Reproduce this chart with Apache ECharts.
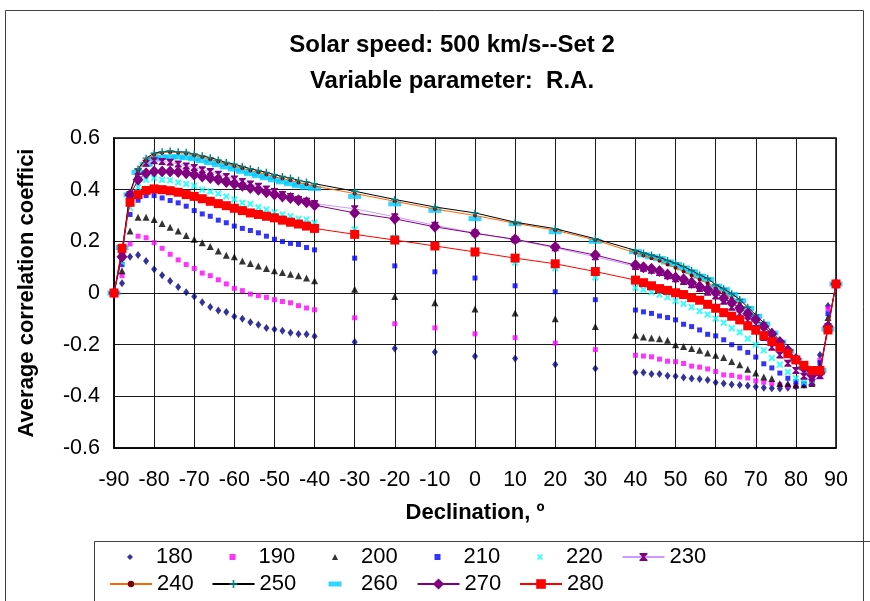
<!DOCTYPE html>
<html>
<head>
<meta charset="utf-8">
<script src="https://cdn.jsdelivr.net/npm/echarts@6/dist/echarts.min.js"></script>
<style>
html,body{margin:0;padding:0;background:#fff;}
#chart{width:870px;height:601px;}
</style>
</head>
<body>
<div id="chart"></div>
<script>
// Declination values (x)
var decl = [-90,-88,-86,-84,-82,-80,-78,-76,-74,-72,-70,-68,-66,-64,-62,-60,-58,-56,-54,-52,-50,-48,-46,-44,-42,-40,
  -30,-20,-10,0,10,20,30,
  40,42,44,46,48,50,52,54,56,58,60,62,64,66,68,70,72,74,76,78,80,82,84,86,88,90];

var seriesNames = ['180','190','200','210','220','230','240','250','260','270','280'];

var s180 = [0,0.038,0.14,0.147,0.124,0.092,0.069,0.046,0.023,0.003,-0.014,-0.036,-0.054,-0.068,-0.074,-0.091,-0.1,-0.113,-0.123,-0.135,-0.14,-0.146,-0.154,-0.159,-0.16,-0.167,
  -0.19,-0.215,-0.228,-0.245,-0.254,-0.277,-0.292,
  -0.308,-0.308,-0.314,-0.314,-0.32,-0.322,-0.327,-0.331,-0.333,-0.337,-0.346,-0.35,-0.354,-0.356,-0.359,-0.363,-0.367,-0.369,-0.37,-0.367,-0.362,-0.355,-0.34,-0.24,-0.05,0.035];
var s190 = [0,0.067,0.19,0.22,0.214,0.195,0.173,0.15,0.128,0.11,0.095,0.077,0.067,0.051,0.035,0.018,0.009,-0.004,-0.01,-0.017,-0.026,-0.033,-0.038,-0.049,-0.058,-0.065,
  -0.096,-0.119,-0.135,-0.158,-0.173,-0.194,-0.219,
  -0.241,-0.244,-0.247,-0.256,-0.264,-0.266,-0.273,-0.283,-0.287,-0.294,-0.304,-0.317,-0.319,-0.325,-0.329,-0.34,-0.345,-0.35,-0.355,-0.36,-0.36,-0.355,-0.345,-0.26,-0.06,0.035];
var s200 = [0,0.086,0.24,0.293,0.293,0.285,0.269,0.255,0.24,0.223,0.208,0.195,0.18,0.163,0.146,0.14,0.124,0.114,0.105,0.095,0.086,0.079,0.073,0.067,0.058,0.047,
  0.015,-0.014,-0.038,-0.062,-0.077,-0.1,-0.13,
  -0.164,-0.17,-0.174,-0.177,-0.183,-0.2,-0.207,-0.215,-0.222,-0.232,-0.241,-0.25,-0.265,-0.278,-0.295,-0.31,-0.325,-0.331,-0.35,-0.35,-0.356,-0.355,-0.35,-0.28,-0.095,0.035];
var s210 = [0,0.11,0.304,0.359,0.377,0.377,0.368,0.358,0.349,0.336,0.319,0.306,0.297,0.282,0.272,0.259,0.25,0.242,0.233,0.22,0.208,0.199,0.192,0.188,0.176,0.167,
  0.135,0.105,0.082,0.058,0.028,0.005,-0.026,
  -0.066,-0.073,-0.079,-0.089,-0.095,-0.104,-0.121,-0.13,-0.143,-0.16,-0.166,-0.181,-0.2,-0.213,-0.23,-0.248,-0.274,-0.29,-0.31,-0.33,-0.343,-0.35,-0.34,-0.27,-0.08,0.035];
var s220 = [0,0.12,0.33,0.41,0.438,0.445,0.438,0.436,0.428,0.422,0.415,0.4,0.393,0.385,0.374,0.362,0.349,0.345,0.332,0.323,0.313,0.304,0.297,0.287,0.285,0.272,
  0.246,0.215,0.185,0.15,0.118,0.096,0.06,
  0.02,0.013,0.003,-0.006,-0.016,-0.031,-0.042,-0.055,-0.07,-0.083,-0.099,-0.115,-0.136,-0.152,-0.177,-0.2,-0.222,-0.252,-0.277,-0.306,-0.33,-0.345,-0.34,-0.31,-0.13,0.035];
var s230 = [0,0.144,0.381,0.47,0.502,0.512,0.509,0.506,0.499,0.492,0.486,0.477,0.47,0.46,0.451,0.441,0.432,0.422,0.413,0.403,0.393,0.381,0.374,0.362,0.355,0.346,
  0.326,0.295,0.262,0.232,0.206,0.175,0.14,
  0.103,0.096,0.088,0.079,0.067,0.055,0.045,0.032,0.017,0.003,-0.012,-0.032,-0.055,-0.08,-0.107,-0.137,-0.172,-0.21,-0.24,-0.272,-0.3,-0.322,-0.345,-0.32,-0.13,0.035];
var s240 = [0,0.16,0.385,0.475,0.515,0.535,0.542,0.545,0.543,0.54,0.533,0.526,0.518,0.509,0.5,0.492,0.483,0.474,0.467,0.459,0.45,0.443,0.436,0.428,0.421,0.414,
  0.385,0.355,0.325,0.3,0.27,0.243,0.205,
  0.155,0.145,0.135,0.125,0.11,0.098,0.083,0.068,0.052,0.038,0.018,0.0,-0.02,-0.042,-0.07,-0.098,-0.128,-0.16,-0.195,-0.23,-0.262,-0.295,-0.315,-0.305,-0.13,0.035];
var s250 = [0,0.16,0.39,0.48,0.522,0.541,0.547,0.55,0.547,0.545,0.538,0.531,0.524,0.515,0.505,0.499,0.49,0.481,0.474,0.467,0.458,0.451,0.445,0.436,0.43,0.423,
  0.394,0.362,0.333,0.31,0.274,0.249,0.21,
  0.165,0.155,0.147,0.138,0.126,0.115,0.102,0.087,0.07,0.056,0.032,0.016,-0.003,-0.025,-0.055,-0.085,-0.115,-0.15,-0.185,-0.22,-0.255,-0.29,-0.31,-0.3,-0.13,0.035];
var s260 = [0,0.176,0.38,0.467,0.498,0.52,0.525,0.527,0.527,0.524,0.52,0.512,0.505,0.497,0.488,0.48,0.471,0.462,0.454,0.446,0.438,0.43,0.423,0.416,0.41,0.405,
  0.374,0.345,0.32,0.288,0.268,0.237,0.2,
  0.16,0.148,0.14,0.133,0.12,0.11,0.097,0.082,0.065,0.052,0.026,0.013,-0.006,-0.03,-0.06,-0.09,-0.12,-0.155,-0.19,-0.225,-0.26,-0.29,-0.31,-0.3,-0.14,0.035];
var s270 = [0,0.14,0.38,0.438,0.464,0.47,0.47,0.47,0.468,0.464,0.458,0.451,0.445,0.438,0.43,0.422,0.415,0.406,0.4,0.39,0.381,0.374,0.368,0.359,0.351,0.34,
  0.31,0.287,0.256,0.231,0.208,0.178,0.147,
  0.108,0.1,0.094,0.085,0.072,0.06,0.053,0.04,0.025,0.014,0.001,-0.02,-0.038,-0.058,-0.08,-0.103,-0.13,-0.158,-0.19,-0.222,-0.255,-0.29,-0.318,-0.31,-0.13,0.035];
var s280 = [0,0.173,0.351,0.381,0.397,0.403,0.4,0.396,0.39,0.381,0.374,0.365,0.355,0.346,0.338,0.328,0.319,0.31,0.304,0.297,0.291,0.282,0.274,0.267,0.259,0.25,
  0.227,0.205,0.182,0.159,0.135,0.113,0.083,
  0.05,0.04,0.028,0.017,0.01,0.001,-0.006,-0.018,-0.028,-0.044,-0.059,-0.076,-0.09,-0.104,-0.127,-0.144,-0.165,-0.188,-0.21,-0.235,-0.259,-0.28,-0.3,-0.3,-0.143,0.035];

var titleLines = ['Solar speed: 500 km/s--Set 2', 'Variable parameter:  R.A.'];
var xName = 'Declination, º';
var yName = 'Average correlation coeffici';

function pairs(arr){ return decl.map(function(d,i){ return [d, arr[i]]; }); }

var FONT = '"Liberation Sans", Arial, sans-serif';
var symX = 'path://M0,2 L2,0 L5,3 L8,0 L10,2 L7,5 L10,8 L8,10 L5,7 L2,10 L0,8 L3,5 Z';
var symStar = 'path://M0,0 L10,0 L10,1.6 L6.4,5 L10,8.4 L10,10 L0,10 L0,8.4 L3.6,5 L0,1.6 Z';
var symPlus = 'path://M4,0 L6,0 L6,4 L10,4 L10,6 L6,6 L6,10 L4,10 L4,6 L0,6 L0,4 L4,4 Z';

function scatter(name, arr, symbol, size, color){
  return {name:name, type:'scatter', data:pairs(arr), symbol:symbol, symbolSize:size, symbolKeepAspect:true,
    itemStyle:{color:color}, silent:true};
}
function line(name, arr, symbol, size, mColor, lColor){
  return {name:name, type:'line', data:pairs(arr), symbol:symbol, symbolSize:size, showAllSymbol:true,
    symbolKeepAspect:true, itemStyle:{color:mColor}, lineStyle:{color:lColor, width:1}, silent:true};
}

var seriesList = [
  scatter('180', s180, 'diamond', [6,8], '#000080'),
  scatter('190', s190, 'rect', 5, '#FF00FF'),
  scatter('200', s200, 'triangle', 7, '#000000'),
  scatter('210', s210, 'rect', 5, '#0000FF'),
  scatter('220', s220, symX, 7, '#00FFFF'),
  line('230', s230, symStar, 7, '#800080', '#CC99FF'),
  line('240', s240, 'circle', 4, '#800000', '#FF6600'),
  line('250', s250, symPlus, 7, '#008080', '#000000'),
  scatter('260', s260, 'rect', [13,5], '#00CCFF'),
  line('270', s270, 'diamond', [11,12], '#800080', '#800080'),
  line('280', s280, 'rect', 9, '#FF0000', '#FF0000')
];

// one legend component per entry, laid out in a 6-column grid
var legendIconH = {'230':10, '240':8, '250':10, '270':14, '280':12};
var legends = seriesList.map(function(s, i){
  var col = i % 6, row = Math.floor(i / 6);
  var slot = 109 + col * 102.5;          // left of a full line icon
  var textX = slot + 47;                  // where the label text begins
  var isLine = s.type === 'line';
  var w, h;
  if (isLine) { w = 42; h = legendIconH[s.name] || 9; }
  else if (s.name === '260') { w = 13; h = 5; }
  else { w = 6; h = 6; }
  var left = isLine ? slot : (slot + 21 - w / 2);
  var pad = textX - (left + w + 5);
  var rowCenter = row === 0 ? 557 : 584;
  return {
    data:[s.name], left:left, top: rowCenter - 12, orient:'horizontal', padding:0,
    itemWidth:w, itemHeight:h, selectedMode:false,
    textStyle:{fontFamily:FONT, fontSize:22, color:'#000', lineHeight:24, padding:[0,0,0,Math.max(0,pad)]}
  };
});

var chart = echarts.init(document.getElementById('chart'), null, {renderer:'canvas'});
chart.setOption({
  animation:false,
  backgroundColor:'#fff',
  title:{
    text: titleLines.join('\n'),
    left: 447, top: 22, textAlign:'center',
    textStyle:{fontFamily:FONT, fontWeight:'bold', fontSize:24, lineHeight:36, color:'#000'}
  },
  graphic:[
    {type:'rect', shape:{x:5.5, y:10.5, width:858, height:620}, style:{fill:null, stroke:'#404040', lineWidth:1}, silent:true, z:-10},
    {type:'rect', shape:{x:94.5, y:541.5, width:820, height:100}, style:{fill:null, stroke:'#404040', lineWidth:1}, silent:true, z:-10}
  ],
  grid:{left:114, right:34, top:138, bottom:153, show:true, borderColor:'#000', borderWidth:1.5, backgroundColor:'transparent'},
  xAxis:{
    type:'value', min:-90, max:90, interval:10,
    name:xName, nameLocation:'middle', nameGap:54,
    nameTextStyle:{fontFamily:FONT, fontWeight:'bold', fontSize:22, color:'#000'},
    axisLine:{onZero:false, lineStyle:{color:'#000', width:1.5}},
    axisTick:{show:false},
    axisLabel:{fontFamily:FONT, fontSize:21.5, color:'#000', margin:21},
    splitLine:{show:true, lineStyle:{color:'#1a1a1a', width:1}}
  },
  yAxis:{
    type:'value', min:-0.6, max:0.6, interval:0.2,
    name:yName, nameLocation:'middle', nameGap:76, nameRotate:90,
    nameTextStyle:{fontFamily:FONT, fontWeight:'bold', fontSize:22, color:'#000'},
    axisLine:{onZero:false, lineStyle:{color:'#000', width:1.5}},
    axisTick:{show:false},
    axisLabel:{fontFamily:FONT, fontSize:21.5, color:'#000', margin:14,
      formatter:function(v){ var r=Math.round(v*10)/10; return r===0?'0':String(r); }},
    splitLine:{show:true, lineStyle:{color:'#1a1a1a', width:1}}
  },
  legend: legends,
  series: seriesList
});
</script>
</body>
</html>
